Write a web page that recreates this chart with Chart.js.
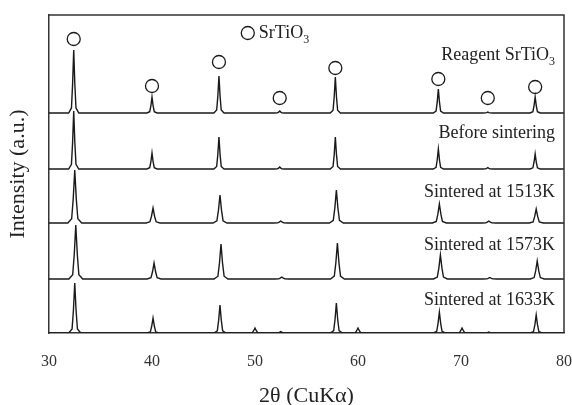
<!DOCTYPE html>
<html>
<head>
<meta charset="utf-8">
<script src="https://cdn.jsdelivr.net/npm/chart.js@4.4.1/dist/chart.umd.min.js"></script>
<style>
  html, body { margin: 0; padding: 0; background: #fff; }
  #wrap { width: 572px; height: 405px; }
</style>
</head>
<body>
<div id="wrap"><canvas id="xrdChart" width="572" height="405"></canvas></div>
<script>
// sample names, top to bottom
let samples = ["Reagent SrTiO", "Before sintering", "Sintered at 1513K", "Sintered at 1573K", "Sintered at 1633K"];

// peak positions (2theta) and heights (a.u.)
let peaksReagent = [32.4, 40.0, 46.5, 52.4, 57.8, 67.8, 72.6, 77.2];
let heightsReagent = [63, 16, 37, 2, 36, 24, 1, 16];

let peaksBefore = [32.4, 40.0, 46.5, 52.4, 57.8, 67.8, 72.6, 77.2];
let heightsBefore = [58, 16, 32, 2, 32, 20, 1.5, 15];

let peaks1513 = [32.5, 40.1, 46.6, 52.5, 57.9, 67.9, 72.7, 77.3];
let heights1513 = [53, 15, 28, 2, 33, 19, 2, 14];

let peaks1573 = [32.6, 40.2, 46.7, 52.6, 58.0, 68.0, 72.8, 77.4];
let heights1573 = [54, 16, 35, 2, 36, 24, 1.5, 18];

let peaks1633 = [32.5, 40.1, 46.6, 50.0, 52.5, 57.9, 60.0, 67.9, 70.1, 72.7, 77.3];
let heights1633 = [50, 15, 28, 5, 1.5, 30, 5, 21, 5, 1, 18];

// hand-read peak shape: offset from centre (deg) and fraction of height
let shapeDx = [-0.45, -0.2, -0.1, 0, 0.1, 0.2, 0.45];
let shapeFrac = [0, 0.08, 0.45, 1, 0.45, 0.08, 0];

// SrTiO3 marker circles above the reagent pattern
let markerX = [32.4, 40.0, 46.5, 52.4, 57.8, 67.8, 72.6, 77.2];
let markerY = [294, 247, 271, 235, 265, 254, 235, 246];

let xTicks = [30, 40, 50, 60, 70, 80];

// layout: vertical offsets of each pattern and label heights (chart units)
let offsets = [220, 164, 110, 54, 0];
let widthScale = [1.1, 1.1, 1.5, 1.5, 1.3];
let labelY = [278, 200, 141, 88, 33];
let legendPos = { x: 49.3, y: 300 };

function buildTrace(peaks, heights, offset, ws) {
    let pts = [{ x: 30, y: offset }];
    for (let i = 0; i < peaks.length; i++) {
        for (let k = 0; k < shapeDx.length; k++) {
            pts.push({ x: peaks[i] + shapeDx[k] * ws, y: offset + heights[i] * shapeFrac[k] });
        }
    }
    pts.push({ x: 80, y: offset });
    return pts;
}

let allPeaks = [peaksReagent, peaksBefore, peaks1513, peaks1573, peaks1633];
let allHeights = [heightsReagent, heightsBefore, heights1513, heights1573, heights1633];

let datasets = [];
for (let i = 0; i < samples.length; i++) {
    datasets.push({
        type: 'line',
        label: samples[i],
        data: buildTrace(allPeaks[i], allHeights[i], offsets[i], widthScale[i]),
        borderColor: '#1a1a1a',
        borderWidth: 1.4,
        pointRadius: 0,
        tension: 0,
        fill: false
    });
}
datasets.push({
    type: 'scatter',
    label: 'SrTiO3',
    data: markerX.map((x, i) => ({ x: x, y: markerY[i] })).concat([legendPos]),
    pointRadius: 6.5,
    pointBorderWidth: 1.3,
    borderColor: '#1a1a1a',
    backgroundColor: '#fff'
});

const FONT = '"Liberation Serif", "Times New Roman", serif';

const annotate = {
    id: 'annotate',
    afterDraw(chart) {
        let ctx = chart.ctx;
        let a = chart.chartArea;
        let ys = chart.scales.y, xs = chart.scales.x;
        ctx.save();
        ctx.strokeStyle = '#333';
        ctx.lineWidth = 1.5;
        ctx.beginPath();
        ctx.moveTo(a.left, a.top);
        ctx.lineTo(a.right, a.top);
        ctx.lineTo(a.right, a.bottom);
        ctx.stroke();

        ctx.fillStyle = '#222';
        ctx.textBaseline = 'middle';
        let rightX = a.right - 9;
        for (let i = 0; i < samples.length; i++) {
            let y = ys.getPixelForValue(labelY[i]);
            ctx.font = '18px ' + FONT;
            if (i === 0) {
                ctx.font = '12px ' + FONT;
                let wSub = ctx.measureText('3').width;
                ctx.font = '18px ' + FONT;
                let wMain = ctx.measureText(samples[i]).width;
                ctx.textAlign = 'left';
                let x0 = rightX - wSub - wMain;
                ctx.fillText(samples[i], x0, y);
                ctx.font = '12px ' + FONT;
                ctx.fillText('3', x0 + wMain, y + 7);
            } else {
                ctx.textAlign = 'right';
                ctx.fillText(samples[i], rightX, y);
            }
        }
        // legend text beside the marker circle
        let lx = xs.getPixelForValue(legendPos.x) + 11;
        let ly = ys.getPixelForValue(legendPos.y);
        ctx.textAlign = 'left';
        ctx.font = '18px ' + FONT;
        ctx.fillText('SrTiO', lx, ly);
        let w = ctx.measureText('SrTiO').width;
        ctx.font = '12px ' + FONT;
        ctx.fillText('3', lx + w, ly + 7);
        ctx.restore();
    }
};

window.onload = function () {
    let ctx = document.getElementById('xrdChart').getContext('2d');
    window.xrd = new Chart(ctx, {
        data: { datasets: datasets },
        options: {
            responsive: false,
            animation: false,
            layout: { padding: { top: 15, right: 8, left: 0, bottom: 0 } },
            plugins: { legend: { display: false }, tooltip: { enabled: false } },
            scales: {
                x: {
                    type: 'linear',
                    min: 30,
                    max: 80,
                    afterBuildTicks: s => { s.ticks = xTicks.map(v => ({ value: v })); },
                    afterFit: s => { s.height = 72; s.paddingLeft = 0; s.paddingRight = 0; },
                    grid: { display: false, drawTicks: false },
                    border: { color: '#333', width: 1.5 },
                    ticks: { padding: 19, color: '#333', font: { family: FONT, size: 16 } },
                    title: {
                        display: true,
                        text: '2θ (CuKα)',
                        color: '#222',
                        padding: { top: 0, bottom: -4 },
                        font: { family: FONT, size: 22 }
                    }
                },
                y: {
                    type: 'linear',
                    min: 0,
                    max: 318,
                    afterFit: s => { s.width = 49; },
                    grid: { display: false, drawTicks: false },
                    border: { color: '#333', width: 1.5 },
                    ticks: { display: false },
                    title: {
                        display: true,
                        text: 'Intensity (a.u.)',
                        color: '#222',
                        padding: { top: 5, bottom: 0 },
                        font: { family: FONT, size: 22 }
                    }
                }
            }
        },
        plugins: [annotate]
    });
};
</script>
</body>
</html>
